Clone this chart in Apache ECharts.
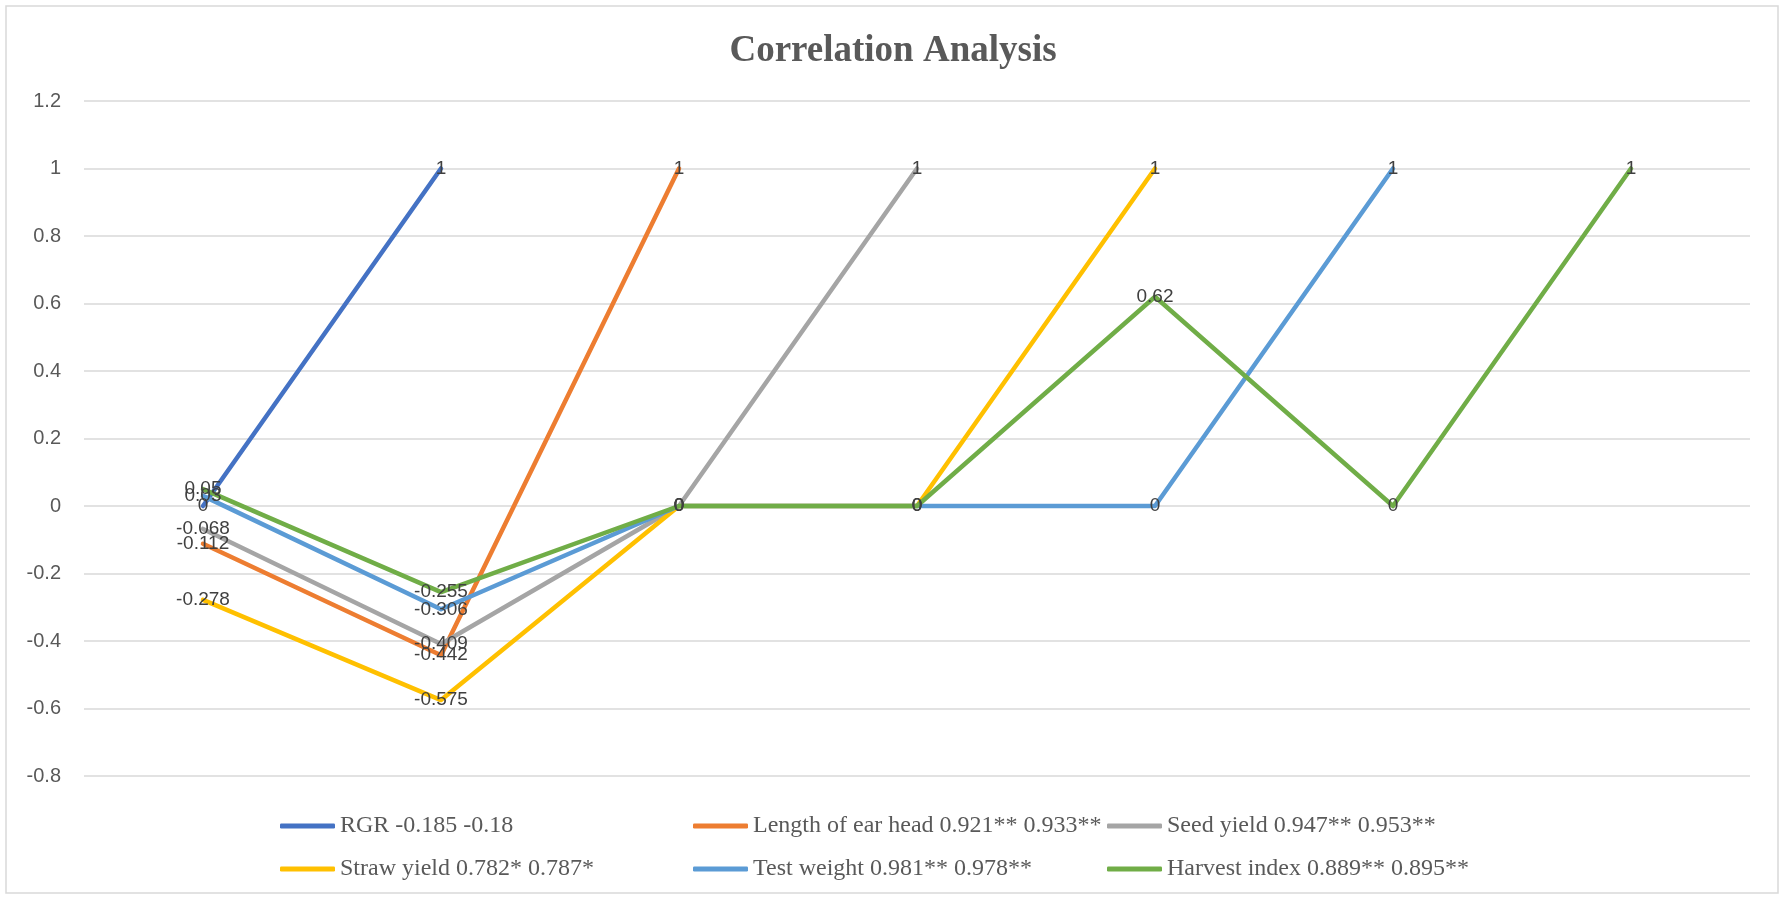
<!DOCTYPE html>
<html>
<head>
<meta charset="utf-8">
<script src="https://cdn.jsdelivr.net/npm/echarts@6/dist/echarts.min.js"></script>
<style>
  html, body { margin: 0; padding: 0; background: #fff; }
  #correlation_chart { width: 1786px; height: 899px; }
</style>
</head>
<body>
<div id="correlation_chart"></div>
<script>
// categories have no visible names in the original
var categories = ['1', '2', '3', '4', '5', '6', '7'];
var yTicks = { min: -0.8, max: 1.2, step: 0.2 };

var seriesNames = [
    'RGR -0.185 -0.18',
    'Length of ear head 0.921** 0.933**',
    'Seed yield 0.947** 0.953**',
    'Straw yield 0.782* 0.787*',
    'Test weight 0.981** 0.978**',
    'Harvest index 0.889** 0.895**'
];
var rgr = [0, 1, null, null, null, null, null];
var earHead = [-0.112, -0.442, 1, null, null, null, null];
var seedYield = [-0.068, -0.409, 0, 1, null, null, null];
var strawYield = [-0.278, -0.575, 0, 0, 1, null, null];
var testWeight = [0.03, -0.306, 0, 0, 0, 1, null];
var harvestIndex = [0.05, -0.255, 0, 0, 0.62, 0, 1];

var colors = ['#4472C4', '#ED7D31', '#A5A5A5', '#FFC000', '#5B9BD5', '#70AD47'];
var allData = [rgr, earHead, seedYield, strawYield, testWeight, harvestIndex];

// legend slots, Excel style: 3 per row, two rows
var legendPos = [[280, 814], [693, 814], [1107, 814], [280, 857], [693, 857], [1107, 857]];

var chart = echarts.init(document.getElementById('correlation_chart'));

var series = allData.map(function (d, i) {
    return {
        name: seriesNames[i],
        type: 'line',
        data: d,
        symbol: 'circle',
        symbolSize: 0,
        lineStyle: { width: 4.5, color: colors[i], cap: 'round', join: 'round' },
        itemStyle: { color: colors[i] },
        label: {
            show: true,
            position: 'inside',
            color: '#404040',
            fontSize: 19,
            fontFamily: 'Liberation Sans'
        },
        emphasis: { disabled: true }
    };
});

var legends = seriesNames.map(function (n, i) {
    return {
        left: legendPos[i][0],
        top: legendPos[i][1],
        data: [n],
        icon: 'roundRect',
        itemWidth: 55,
        itemHeight: 5,
        padding: 0,
        textStyle: { color: '#595959', fontSize: 24, fontFamily: 'Liberation Serif' }
    };
});

option = {
    animation: false,
    color: colors,
    title: {
        text: 'Correlation Analysis',
        left: 'center',
        top: 28,
        textStyle: {
            color: '#595959',
            fontSize: 37,
            fontWeight: 'bold',
            fontFamily: 'Liberation Serif'
        }
    },
    graphic: [{
        type: 'rect',
        shape: { x: 6, y: 6, width: 1772, height: 887 },
        style: { fill: 'none', stroke: '#d9d9d9', lineWidth: 1.5 },
        silent: true
    }],
    legend: legends,
    grid: { left: 84, right: 36, top: 101, bottom: 123 },
    xAxis: {
        type: 'category',
        data: categories,
        boundaryGap: true,
        axisLine: { show: false },
        axisTick: { show: false },
        axisLabel: { show: false }
    },
    yAxis: {
        type: 'value',
        min: yTicks.min,
        max: yTicks.max,
        interval: yTicks.step,
        axisLine: { show: false },
        axisTick: { show: false },
        axisLabel: {
            color: '#595959',
            fontSize: 20,
            fontFamily: 'Liberation Sans',
            margin: 23,
            formatter: function (v) { return String(Math.round(v * 10) / 10); }
        },
        splitLine: { lineStyle: { color: '#d9d9d9', width: 1.5 } }
    },
    series: series
};
chart.setOption(option);
</script>
</body>
</html>
